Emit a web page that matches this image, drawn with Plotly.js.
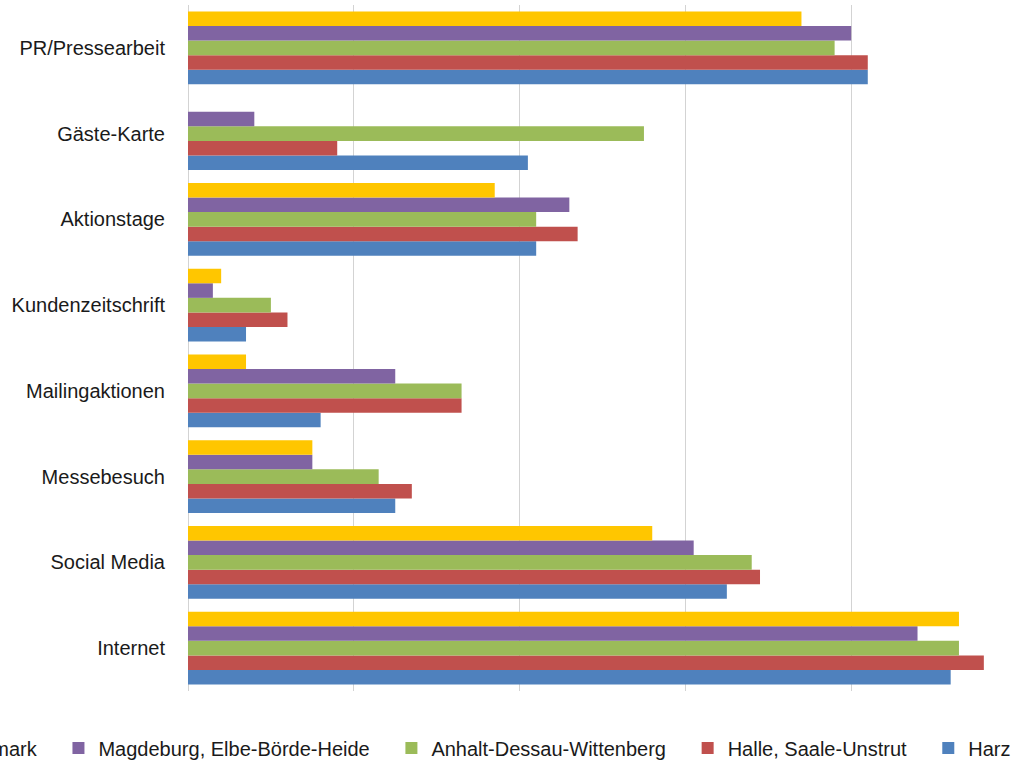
<!DOCTYPE html>
<html>
<head>
<meta charset="utf-8">
<script src="https://cdn.plot.ly/plotly-3.0.1.min.js"></script>
<style>
html, body { margin: 0; padding: 0; overflow: hidden; width: 1014px; height: 765px; background: #fff; }
#chart { position: absolute; left: -200px; top: 0; width: 1400px; height: 820px; }
</style>
</head>
<body>
<div id="chart"></div>
<script>
// Categories, bottom to top as drawn by Plotly
const categories = ["Internet", "Social Media", "Messebesuch", "Mailingaktionen",
  "Kundenzeitschrift", "Aktionstage", "Gäste-Karte", "PR/Pressearbeit"];

const seriesNames = ["Harz", "Halle, Saale-Unstrut", "Anhalt-Dessau-Wittenberg",
  "Magdeburg, Elbe-Börde-Heide", "Altmark"];

const harz      = [92, 65, 25, 16, 7, 42, 41, 82];
const halle     = [96, 69, 27, 33, 12, 47, 18, 82];
const anhalt    = [93, 68, 23, 33, 10, 42, 55, 78];
const magdeburg = [88, 61, 15, 25, 3, 46, 8, 80];
const altmark   = [93, 56, 15, 7, 4, 37, 0, 74];

const xTicks = [0, 20, 40, 60, 80, 100];

const seriesValues = [harz, halle, anhalt, magdeburg, altmark];
const colors = ["#4F81BD", "#C0504D", "#9BBB59", "#8064A2", "#FFC600"];

const FONT = "'Liberation Sans', Arial, sans-serif";
const PAD = "\u00a0\u00a0\u00a0";

const traces = seriesNames.map((name, i) => ({
  type: "bar",
  orientation: "h",
  name: name + PAD,
  y: categories,
  x: seriesValues[i],
  marker: { color: colors[i] },
  hovertemplate: "%{y}: %{x}<extra>" + name + "</extra>"
}));

const W = 1400, H = 820, L = 200;
const ML = 188 + L, MR = W - (1017 + L);
const PW = W - ML - MR, PT = 5, PBOT = 691, PB = H - PBOT, PH = PBOT - PT;

const layout = {
  width: W,
  height: H,
  margin: { l: ML, r: MR, t: PT, b: PB },
  paper_bgcolor: "#ffffff",
  plot_bgcolor: "#ffffff",
  barmode: "group",
  bargap: 0.15,
  bargroupgap: 0,
  font: { family: FONT, size: 20, color: "#1a1a1a" },
  xaxis: {
    range: [0, 100],
    tickvals: xTicks,
    showticklabels: false,
    showgrid: true,
    gridcolor: "#D3D3D3",
    gridwidth: 1,
    zeroline: true,
    zerolinecolor: "#D3D3D3",
    zerolinewidth: 1,
    showline: false,
    fixedrange: true
  },
  yaxis: {
    type: "category",
    showgrid: false,
    showline: false,
    ticks: "",
    ticklabelstandoff: 22,
    tickfont: { family: FONT, size: 20, color: "#1a1a1a" },
    fixedrange: true
  },
  showlegend: true,
  legend: {
    orientation: "h",
    traceorder: "reversed",
    xref: "paper",
    yref: "paper",
    x: (129 - ML) / PW,
    xanchor: "left",
    y: -(748 - PBOT) / PH,
    yanchor: "middle",
    font: { family: FONT, size: 20, color: "#1a1a1a" },
    bgcolor: "rgba(0,0,0,0)",
    borderwidth: 0
  }
};

Plotly.newPlot("chart", traces, layout, { displayModeBar: false });
</script>
</body>
</html>
